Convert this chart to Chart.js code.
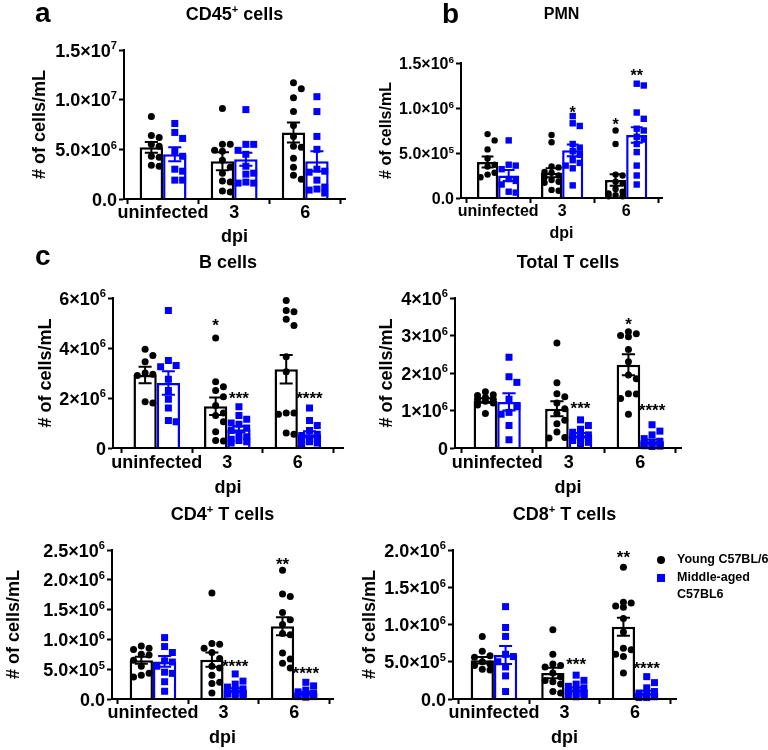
<!DOCTYPE html>
<html>
<head>
<meta charset="utf-8">
<script src="https://cdn.jsdelivr.net/npm/chart.js@4.4.1/dist/chart.umd.min.js"></script>
<style>
html,body{margin:0;padding:0;background:#fff;}
#wrap{position:relative;width:768px;height:750px;overflow:hidden;background:#fff;}
#wrap canvas{position:absolute;}
</style>
</head>
<body>
<div id="wrap"></div>
<script>
// ---------------- DATA ----------------
const categories = ['uninfected', '3', '6'];
const seriesNames = ['Young C57BL/6', 'Middle-aged C57BL6'];

// a) CD45+ cells, values in 10^6 cells/mL
const cd45YoungPts = [
  [8.3, 6.4, 6.2, 5.5, 5.3, 4.3, 4.2, 3.4, 3.3],
  [9.1, 5.5, 5.5, 4.9, 4.8, 3.9, 3.2, 2.6, 1.8, 1.7, 0.8, 0.7],
  [11.7, 11.1, 10.2, 8.8, 7.4, 6.3, 5.3, 5.2, 4.1, 3.2, 2.4, 2.0]];
const cd45MiddlePts = [
  [7.6, 6.7, 6.1, 4.8, 4.3, 3.0, 2.8, 1.9, 1.9],
  [9.0, 5.5, 5.5, 4.9, 4.5, 3.3, 2.6, 2.5, 1.7, 1.6, 1.6],
  [10.3, 8.8, 6.3, 5.0, 3.0, 2.8, 2.7, 1.9, 1.2, 1.0, 0.9, 0.6]];
const cd45YoungMean = [5.2, 3.8, 6.7];
const cd45YoungSem = [0.55, 0.9, 1.0];
const cd45MiddleMean = [4.5, 4.0, 3.8];
const cd45MiddleSem = [0.7, 0.65, 1.0];
const cd45TickVals = [0, 5, 10, 15];
const cd45TickLabels = [['0.0', ''], ['5.0×10', '6'], ['1.0×10', '7'], ['1.5×10', '7']];
const cd45Stars = [['', '', ''], ['', '', '']];
const cd45StarLevel = [[0, 0, 0], [0, 0, 0]];

// b) PMN, values in 10^5 cells/mL
const pmnYoungPts = [
  [7.1, 6.4, 5.4, 4.4, 3.7, 3.5, 2.8, 2.6, 2.3],
  [7.0, 6.2, 3.5, 3.4, 2.9, 2.8, 2.5, 2.3, 2.0, 1.8, 1.7, 0.9, 0.8],
  [7.5, 6.0, 2.6, 2.5, 1.8, 1.6, 1.0, 0.7, 0.5, 0.3, 0.2, 0.2]];
const pmnMiddlePts = [
  [6.4, 3.7, 3.6, 3.2, 2.1, 1.9, 1.5, 0.7, 0.6],
  [9.1, 8.3, 8.0, 6.0, 5.6, 5.2, 4.8, 4.2, 3.9, 3.6, 3.3, 1.4],
  [12.7, 12.5, 9.5, 8.8, 7.7, 7.5, 6.8, 6.5, 6.0, 5.1, 3.6, 2.5, 1.5]];
const pmnYoungMean = [4.0, 2.8, 2.0];
const pmnYoungSem = [0.6, 0.5, 0.65];
const pmnMiddleMean = [2.5, 5.3, 7.0];
const pmnMiddleSem = [0.6, 0.65, 0.85];
const pmnTickVals = [0, 5, 10, 15];
const pmnTickLabels = [['0.0', ''], ['5.0×10', '5'], ['1.0×10', '6'], ['1.5×10', '6']];
const pmnStars = [['', '', '*'], ['', '*', '**']];
const pmnStarLevel = [[0, 0, 8.6], [0, 9.9, 14.0]];

// c) B cells, values in 10^6 cells/mL
const bYoungPts = [
  [3.95, 3.7, 3.45, 3.0, 2.95, 2.9, 1.85, 1.8],
  [4.4, 2.65, 2.45, 2.3, 2.05, 1.7, 1.4, 1.3, 1.05, 0.65, 0.3, 0.28],
  [5.9, 5.5, 5.45, 5.15, 4.9, 3.65, 3.05, 1.4, 1.4, 1.35, 0.6, 0.55]];
const bMiddlePts = [
  [5.5, 3.5, 3.3, 3.25, 2.75, 2.3, 1.95, 1.6, 1.1, 1.05],
  [1.65, 1.3, 1.15, 1.0, 0.95, 0.8, 0.7, 0.55, 0.45, 0.35, 0.3, 0.25, 0.2],
  [1.6, 1.1, 0.9, 0.7, 0.55, 0.5, 0.4, 0.35, 0.3, 0.25, 0.2, 0.15]];
const bYoungMean = [2.92, 1.67, 3.15];
const bYoungSem = [0.33, 0.35, 0.57];
const bMiddleMean = [2.6, 0.75, 0.55];
const bMiddleSem = [0.47, 0.12, 0.12];
const bTickVals = [0, 2, 4, 6];
const bTickLabels = [['0', ''], ['2×10', '6'], ['4×10', '6'], ['6×10', '6']];
const bStars = [['', '*', ''], ['', '***', '****']];
const bStarLevel = [[0, 5.06, 0], [0, 2.14, 2.14]];

// c) Total T cells, values in 10^6 cells/mL
const tYoungPts = [
  [1.5, 1.42, 1.4, 1.35, 1.3, 1.3, 1.25, 1.2, 1.15, 0.92],
  [2.8, 1.74, 1.45, 1.37, 1.2, 1.05, 0.92, 0.74, 0.65, 0.43, 0.28, 0.27],
  [3.1, 3.05, 3.0, 2.97, 2.63, 2.3, 1.95, 1.85, 1.45, 1.44, 1.32, 0.9]];
const tMiddlePts = [
  [2.42, 1.9, 1.75, 1.3, 1.1, 0.95, 0.9, 0.6, 0.22],
  [0.75, 0.6, 0.5, 0.42, 0.35, 0.32, 0.3, 0.25, 0.22, 0.2, 0.15, 0.12],
  [0.62, 0.45, 0.35, 0.25, 0.18, 0.15, 0.12, 0.1, 0.08, 0.06, 0.05, 0.04]];
const tYoungMean = [1.27, 1.05, 2.22];
const tYoungSem = [0.06, 0.2, 0.28];
const tMiddleMean = [1.23, 0.34, 0.18];
const tMiddleSem = [0.23, 0.06, 0.05];
const tTickVals = [0, 1, 2, 3, 4];
const tTickLabels = [['0', ''], ['1×10', '6'], ['2×10', '6'], ['3×10', '6'], ['4×10', '6']];
const tStars = [['', '', '*'], ['', '***', '****']];
const tStarLevel = [[0, 0, 3.4], [0, 1.17, 1.1]];

// c) CD4+ T cells, values in 10^5 cells/mL
const cd4YoungPts = [
  [8.9, 8.5, 8.3, 7.5, 7.4, 6.5, 5.5, 4.3, 4.0, 3.7],
  [17.8, 9.3, 9.2, 8.5, 7.8, 6.8, 5.5, 5.2, 4.0, 2.8, 2.6, 1.0],
  [21.6, 17.6, 17.2, 14.5, 13.3, 12.5, 11.0, 10.8, 7.7, 6.7, 6.0, 5.2]];
const cd4MiddlePts = [
  [10.3, 8.8, 7.8, 6.4, 6.2, 5.5, 4.5, 4.3, 2.9, 1.3],
  [4.2, 3.0, 2.5, 2.0, 1.7, 1.5, 1.2, 1.0, 0.9, 0.8, 0.6, 0.5],
  [2.8, 2.2, 1.5, 1.2, 1.0, 0.8, 0.7, 0.6, 0.5, 0.4, 0.4, 0.3]];
const cd4YoungMean = [6.5, 6.6, 12.2];
const cd4YoungSem = [0.6, 1.2, 1.5];
const cd4MiddleMean = [6.3, 1.5, 1.0];
const cd4MiddleSem = [0.9, 0.3, 0.2];
const cd4TickVals = [0, 5, 10, 15, 20, 25];
const cd4TickLabels = [['0.0', ''], ['5.0×10', '5'], ['1.0×10', '6'], ['1.5×10', '6'], ['2.0×10', '6'], ['2.5×10', '6']];
const cd4Stars = [['', '', '**'], ['', '****', '****']];
const cd4StarLevel = [[0, 0, 23.2], [0, 6.1, 5.0]];

// c) CD8+ T cells, values in 10^5 cells/mL
const cd8YoungPts = [
  [8.4, 6.4, 5.8, 5.6, 5.0, 4.7, 4.5, 4.0, 3.9],
  [9.3, 6.0, 4.7, 4.5, 4.3, 3.5, 3.0, 2.5, 2.3, 2.0, 1.0, 0.8],
  [17.7, 13.0, 12.9, 12.5, 12.3, 10.8, 9.0, 6.8, 6.6, 6.0, 5.7, 3.5]];
const cd8MiddlePts = [
  [12.4, 9.6, 8.4, 6.0, 5.7, 5.0, 4.3, 3.1, 1.0],
  [3.2, 2.5, 2.0, 1.7, 1.5, 1.2, 1.0, 0.8, 0.7, 0.6, 0.5, 0.3],
  [3.0, 2.2, 1.5, 1.0, 0.8, 0.6, 0.5, 0.4, 0.3, 0.3, 0.2, 0.2]];
const cd8YoungMean = [5.2, 3.5, 9.7];
const cd8YoungSem = [0.45, 0.7, 1.2];
const cd8MiddleMean = [5.9, 1.3, 0.85];
const cd8MiddleSem = [1.2, 0.25, 0.25];
const cd8TickVals = [0, 5, 10, 15, 20];
const cd8TickLabels = [['0.0', ''], ['5.0×10', '5'], ['1.0×10', '6'], ['1.5×10', '6'], ['2.0×10', '6']];
const cd8Stars = [['', '', '**'], ['', '***', '****']];
const cd8StarLevel = [[0, 0, 19.6], [0, 5.2, 4.6]];

// ---------------- RENDERING ----------------
const FONT = "'Liberation Sans', Arial, Helvetica, sans-serif";
const COLORS = ['#000000', '#0000ff'];

function drawRich(ctx, parts, x, baseline, fs, align) {
  const supFs = fs * 0.62;
  const widths = parts.map(pt => {
    ctx.font = 'bold ' + (pt[1] ? supFs : fs) + 'px ' + FONT;
    return ctx.measureText(pt[0]).width;
  });
  const total = widths.reduce((a, b) => a + b, 0);
  let cx = align === 'right' ? x - total : (align === 'center' ? x - total / 2 : x);
  ctx.textAlign = 'left';
  ctx.textBaseline = 'alphabetic';
  parts.forEach((pt, i) => {
    ctx.font = 'bold ' + (pt[1] ? supFs : fs) + 'px ' + FONT;
    ctx.fillText(pt[0], cx, pt[1] ? baseline - fs * 0.4 : baseline);
    cx += widths[i];
  });
}

// horizontal spreading of points that would overlap (column layout)
function swarmOffsets(ys, minSep, step, maxOff) {
  const n = ys.length;
  const order = [...Array(n).keys()].sort((a, b) => ys[a] - ys[b]);
  const cands = [0];
  for (let k = 1; k * step <= maxOff + 0.01; k++) cands.push(k * step, -k * step);
  const placed = [];
  const out = new Array(n);
  for (const i of order) {
    let best = 0, bestScore = -1;
    for (const c of cands) {
      let md = Infinity;
      for (const q of placed) {
        const d = Math.hypot(q.x - c, q.y - ys[i]);
        if (d < md) md = d;
      }
      if (md >= minSep) { best = c; bestScore = Infinity; break; }
      if (md > bestScore) { bestScore = md; best = c; }
    }
    out[i] = best;
    placed.push({x: best, y: ys[i]});
  }
  return out;
}

function makePanel(p) {
  const [bx, by, W, H] = p.box;
  const cv = document.createElement('canvas');
  cv.width = W; cv.height = H;
  cv.style.left = bx + 'px'; cv.style.top = by + 'px';
  cv.style.width = W + 'px'; cv.style.height = H + 'px';
  document.getElementById('wrap').appendChild(cv);

  const fs = p.fs;
  const font = {family: FONT, weight: 'bold', size: fs, lineHeight: 1};
  const groups = [
    {pts: p.youngPts, mean: p.youngMean, sem: p.youngSem},
    {pts: p.middlePts, mean: p.middleMean, sem: p.middleSem}];

  const mkSet = (g, d) => ({
    label: seriesNames[d],
    data: g.mean.map((v, i) => ({x: i, y: v})),
    backgroundColor: '#ffffff',
    borderColor: COLORS[d],
    borderWidth: 2.5,
    borderSkipped: 'start',
    categoryPercentage: 0.66,
    barPercentage: 1.0
  });

  const deco = {
    id: 'deco',
    afterDatasetsDraw(chart) {
      const ctx = chart.ctx;
      const ys = chart.scales.y;
      const r = p.r;
      ctx.save();
      // scatter points
      groups.forEach((g, d) => {
        const meta = chart.getDatasetMeta(d);
        meta.data.forEach((bar, i) => {
          const yp = g.pts[i].map(v => ys.getPixelForValue(v));
          const step = bar.width / 3;
          const offs = swarmOffsets(yp, 2 * r + 0.6, step, step);
          ctx.fillStyle = COLORS[d];
          yp.forEach((y, k) => {
            const x = bar.x + offs[k];
            if (d === 0) {
              ctx.beginPath(); ctx.arc(x, y, r, 0, Math.PI * 2); ctx.fill();
            } else {
              ctx.fillRect(x - r, y - r, 2 * r, 2 * r);
            }
          });
        });
      });
      // error bars (mean ± SEM)
      groups.forEach((g, d) => {
        const meta = chart.getDatasetMeta(d);
        ctx.strokeStyle = COLORS[d];
        ctx.lineWidth = 2;
        meta.data.forEach((bar, i) => {
          const yt = ys.getPixelForValue(g.mean[i] + g.sem[i]);
          const yb = ys.getPixelForValue(Math.max(0, g.mean[i] - g.sem[i]));
          const cw = bar.width * 0.28;
          ctx.beginPath();
          ctx.moveTo(bar.x, yt); ctx.lineTo(bar.x, yb);
          ctx.moveTo(bar.x - cw, yt); ctx.lineTo(bar.x + cw, yt);
          ctx.moveTo(bar.x - cw, yb); ctx.lineTo(bar.x + cw, yb);
          ctx.stroke();
        });
      });
      // significance stars
      ctx.fillStyle = '#000';
      ctx.textAlign = 'center';
      ctx.textBaseline = 'alphabetic';
      ctx.font = 'bold ' + p.starFs + 'px ' + FONT;
      [0, 1].forEach(d => {
        const meta = chart.getDatasetMeta(d);
        meta.data.forEach((bar, i) => {
          const s = p.stars[d][i];
          if (!s) return;
          const y = ys.getPixelForValue(p.starLevel[d][i]);
          ctx.fillText(s, bar.x, y + p.starFs * 0.57);
        });
      });
      ctx.restore();
    },
    afterDraw(chart) {
      const ctx = chart.ctx;
      const ys = chart.scales.y;
      const ca = chart.chartArea;
      ctx.save();
      ctx.fillStyle = '#000';
      // y tick labels with superscript exponents
      p.tickVals.forEach((v, i) => {
        const y = ys.getPixelForValue(v);
        const [m, e] = p.tickLabels[i];
        const parts = e ? [[m, 0], [e, 1]] : [[m, 0]];
        drawRich(ctx, parts, ca.left - 7, y + fs * 0.37, fs, 'right');
      });
      // panel title
      drawRich(ctx, p.title, (ca.left + ca.right) / 2, p.titleY, p.titleFs, 'center');
      // panel letter
      if (p.letter) {
        ctx.font = 'bold 28px ' + FONT;
        ctx.textAlign = 'left';
        ctx.textBaseline = 'alphabetic';
        ctx.fillText(p.letter[0], p.letter[1], p.letter[2]);
      }
      // legend
      if (p.legend) {
        const [lx, ly] = p.legend;
        ctx.fillStyle = COLORS[0];
        ctx.beginPath(); ctx.arc(lx, ly, 4, 0, Math.PI * 2); ctx.fill();
        ctx.fillStyle = COLORS[1];
        ctx.fillRect(lx - 4, ly + 18 - 4, 8, 8);
        ctx.fillStyle = '#000';
        ctx.font = 'bold 12.5px ' + FONT;
        ctx.textAlign = 'left';
        ctx.textBaseline = 'middle';
        ctx.fillText(seriesNames[0], lx + 16, ly);
        const parts = seriesNames[1].split(' ');
        ctx.fillText(parts[0], lx + 16, ly + 18);
        ctx.fillText(parts[1], lx + 16, ly + 34.5);
      }
      ctx.restore();
    }
  };

  new Chart(cv, {
    type: 'bar',
    data: {datasets: [mkSet(groups[0], 0), mkSet(groups[1], 1)]},
    options: {
      responsive: false,
      devicePixelRatio: 1,
      animation: false,
      events: [],
      layout: {padding: {left: 0, top: p.area.top, right: W - p.area.right, bottom: 0}},
      plugins: {legend: {display: false}, tooltip: {enabled: false}, title: {display: false}},
      scales: {
        x: {
          type: 'linear',
          min: p.xRange[0], max: p.xRange[1],
          bounds: 'data',
          offset: false,
          afterBuildTicks: s => { s.ticks = [0, 1, 2].map(v => ({value: v})); },
          afterFit: s => { s.height = H - p.area.bottom; },
          grid: {drawOnChartArea: false, drawTicks: true, tickLength: 5, tickWidth: 2, color: '#000', tickColor: '#000'},
          border: {display: true, color: '#000', width: 2, z: 1},
          ticks: {
            callback: v => categories[v],
            font: font, color: '#000', padding: p.xTickPad,
            maxRotation: 0, minRotation: 0, autoSkip: false
          },
          title: {display: true, text: 'dpi', font: font, color: '#000', padding: {top: 0, bottom: p.dpiPad}}
        },
        y: {
          min: 0, max: p.tickVals[p.tickVals.length - 1],
          afterBuildTicks: s => { s.ticks = p.tickVals.map(v => ({value: v})); },
          afterFit: s => { s.width = p.area.left; },
          grid: {drawOnChartArea: false, drawTicks: true, tickLength: 5, tickWidth: 2, color: '#000', tickColor: '#000'},
          border: {display: true, color: '#000', width: 2},
          ticks: {display: false},
          title: {display: true, text: '# of cells/mL', font: font, color: '#000', padding: {top: p.yTitleX - fs / 2, bottom: 0}}
        }
      }
    },
    plugins: [deco]
  });
}

const panels = [
  {box: [0, 0, 352, 250], area: {left: 124, right: 345, top: 50, bottom: 199}, xRange: [-0.55, 2.56],
   fs: 18, titleFs: 18, starFs: 17, r: 3.5, title: [['CD45', 0], ['+', 1], [' cells', 0]], titleY: 20,
   letter: ['a', 35, 22], yTitleX: 40, xTickPad: 0, dpiPad: 4,
   youngPts: cd45YoungPts, middlePts: cd45MiddlePts, youngMean: cd45YoungMean, youngSem: cd45YoungSem,
   middleMean: cd45MiddleMean, middleSem: cd45MiddleSem, tickVals: cd45TickVals, tickLabels: cd45TickLabels,
   stars: cd45Stars, starLevel: cd45StarLevel},
  {box: [352, 0, 416, 250], area: {left: 109, right: 310, top: 63, bottom: 198}, xRange: [-0.58, 2.56],
   fs: 16, titleFs: 16, starFs: 16, r: 3.2, title: [['PMN', 0]], titleY: 18.5,
   letter: ['b', 90, 22.5], yTitleX: 35, xTickPad: 1, dpiPad: 8.5,
   youngPts: pmnYoungPts, middlePts: pmnMiddlePts, youngMean: pmnYoungMean, youngSem: pmnYoungSem,
   middleMean: pmnMiddleMean, middleSem: pmnMiddleSem, tickVals: pmnTickVals, tickLabels: pmnTickLabels,
   stars: pmnStars, starLevel: pmnStarLevel},
  {box: [0, 250, 352, 250], area: {left: 113, right: 343, top: 48, bottom: 198}, xRange: [-0.62, 2.64],
   fs: 18, titleFs: 18, starFs: 17, r: 3.5, title: [['B cells', 0]], titleY: 18,
   letter: ['c', 35, 15], yTitleX: 46, xTickPad: 1, dpiPad: 3,
   youngPts: bYoungPts, middlePts: bMiddlePts, youngMean: bYoungMean, youngSem: bYoungSem,
   middleMean: bMiddleMean, middleSem: bMiddleSem, tickVals: bTickVals, tickLabels: bTickLabels,
   stars: bStars, starLevel: bStarLevel},
  {box: [352, 250, 416, 250], area: {left: 103, right: 329, top: 48, bottom: 198}, xRange: [-0.59, 2.57],
   fs: 18, titleFs: 18, starFs: 17, r: 3.5, title: [['Total T cells', 0]], titleY: 18,
   letter: null, yTitleX: 35, xTickPad: 1, dpiPad: 3,
   youngPts: tYoungPts, middlePts: tMiddlePts, youngMean: tYoungMean, youngSem: tYoungSem,
   middleMean: tMiddleMean, middleSem: tMiddleSem, tickVals: tTickVals, tickLabels: tTickLabels,
   stars: tStars, starLevel: tStarLevel},
  {box: [0, 500, 352, 250], area: {left: 112, right: 333, top: 50, bottom: 199}, xRange: [-0.58, 2.55],
   fs: 18, titleFs: 18, starFs: 17, r: 3.5, title: [['CD4', 0], ['+', 1], [' T cells', 0]], titleY: 20,
   letter: null, yTitleX: 14, xTickPad: 0, dpiPad: 3,
   youngPts: cd4YoungPts, middlePts: cd4MiddlePts, youngMean: cd4YoungMean, youngSem: cd4YoungSem,
   middleMean: cd4MiddleMean, middleSem: cd4MiddleSem, tickVals: cd4TickVals, tickLabels: cd4TickLabels,
   stars: cd4Stars, starLevel: cd4StarLevel},
  {box: [352, 500, 416, 250], area: {left: 101, right: 324, top: 50, bottom: 199}, xRange: [-0.58, 2.58],
   fs: 18, titleFs: 18, starFs: 17, r: 3.5, title: [['CD8', 0], ['+', 1], [' T cells', 0]], titleY: 20,
   letter: null, yTitleX: 18, xTickPad: 0, dpiPad: 3, legend: [309, 60],
   youngPts: cd8YoungPts, middlePts: cd8MiddlePts, youngMean: cd8YoungMean, youngSem: cd8YoungSem,
   middleMean: cd8MiddleMean, middleSem: cd8MiddleSem, tickVals: cd8TickVals, tickLabels: cd8TickLabels,
   stars: cd8Stars, starLevel: cd8StarLevel}
];

panels.forEach(makePanel);
</script>
</body>
</html>
